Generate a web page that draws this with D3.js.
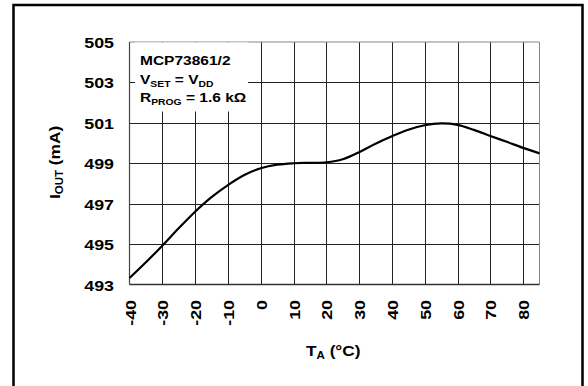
<!DOCTYPE html>
<html>
<head>
<meta charset="utf-8">
<script src="https://cdn.jsdelivr.net/npm/d3@7"></script>
<style>
  html, body { margin: 0; padding: 0; background: #fff; }
  svg { display: block; }
  text { font-family: "Liberation Sans", Arial, sans-serif; font-weight: bold; fill: #000; }
</style>
</head>
<body>
<svg id="chart" width="588" height="386"></svg>
<script>
// ---- data ----
const temperatures = [-40,-35,-30,-25,-20,-15,-10,-5,0,5,10,15,20,25,30,35,40,45,50,55,60,65,70,75,80,85];
const currents = [493.32,494.1,494.92,495.78,496.6,497.32,497.92,498.42,498.75,498.93,499.0,499.02,499.05,499.2,499.55,499.97,500.34,500.66,500.88,500.97,500.9,500.65,500.35,500.06,499.76,499.49];
const xTicks = [-40,-30,-20,-10,0,10,20,30,40,50,60,70,80];
const yTicks = [493,495,497,499,501,503,505];
const xDomain = [-40, 85];
const yDomain = [493, 505];

const svg = d3.select("#chart");
const SX = 1.15; // horizontal text stretch to mimic source font width

// outer frame
svg.append("rect").attr("x", 13.5).attr("y", 5).attr("width", 569).attr("height", 390)
  .attr("fill", "none").attr("stroke", "#000").attr("stroke-width", 2.5);

const x = d3.scaleLinear().domain(xDomain).range([129.5, 539.5]);
const y = d3.scaleLinear().domain(yDomain).range([284.5, 42]);

// grid
const grid = svg.append("g");
grid.selectAll("line.v").data(xTicks.filter(d => d > xDomain[0])).join("line")
  .attr("x1", d => Math.round(x(d)) + 0.5).attr("x2", d => Math.round(x(d)) + 0.5)
  .attr("y1", y(yDomain[1])).attr("y2", y(yDomain[0]))
  .attr("stroke", "#222").attr("stroke-width", 1);
grid.selectAll("line.h").data(yTicks.filter(d => d > yDomain[0] && d < yDomain[1])).join("line")
  .attr("x1", x(xDomain[0])).attr("x2", x(xDomain[1]))
  .attr("y1", d => Math.round(y(d)) + 0.5).attr("y2", d => Math.round(y(d)) + 0.5)
  .attr("stroke", "#222").attr("stroke-width", 1);

// plot border
svg.append("line").attr("x1", x(xDomain[0])).attr("x2", x(xDomain[1])).attr("y1", y(505)).attr("y2", y(505)).attr("stroke", "#888");
svg.append("line").attr("x1", x(xDomain[1])).attr("x2", x(xDomain[1])).attr("y1", y(505)).attr("y2", y(493)).attr("stroke", "#888");
svg.append("line").attr("x1", x(xDomain[0])).attr("x2", x(xDomain[1])).attr("y1", y(493)).attr("y2", y(493)).attr("stroke", "#333").attr("stroke-width", 1.3);
svg.append("line").attr("x1", x(xDomain[0])).attr("x2", x(xDomain[0])).attr("y1", y(505)).attr("y2", y(493)).attr("stroke", "#444").attr("stroke-width", 1.2);

// annotation box (white, covers grid)
svg.append("rect").attr("x", 135).attr("y", y(505) + 0.5).attr("width", 113).attr("height", 69)
  .attr("fill", "#fff");

const ann = svg.append("g");
function annLine(yy, parts) {
  const t = ann.append("text").attr("transform", `translate(140,${yy}) scale(${SX},1)`)
    .style("font-size", "13.5px");
  parts.forEach(p => {
    const ts = t.append("tspan").text(p.t);
    if (p.sub) ts.style("font-size", "9px").attr("dy", 3);
    else if (p.back) ts.attr("dy", -3);
  });
}
annLine(65, [{t: "MCP73861/2"}]);
annLine(83.5, [{t: "V"}, {t: "SET", sub: true}, {t: " = V", back: true}, {t: "DD", sub: true}]);
annLine(101.5, [{t: "R"}, {t: "PROG", sub: true}, {t: " = 1.6 k\u03A9", back: true}]);

// curve
const line = d3.line().x((d, i) => x(temperatures[i])).y(d => y(d)).curve(d3.curveCatmullRom);
svg.append("path").datum(currents).attr("d", line)
  .attr("fill", "none").attr("stroke", "#000").attr("stroke-width", 2.2);

// y axis
const yAxis = svg.append("g").attr("transform", `translate(114,0)`)
  .call(d3.axisLeft(y).tickValues(yTicks).tickSize(0).tickPadding(0).tickFormat(d => String(d)));
yAxis.select(".domain").remove();
yAxis.selectAll("text").attr("x", null).attr("dy", "0.36em")
  .attr("transform", `scale(${SX},1)`)
  .style("font-size", "15.5px").style("font-family", "Liberation Sans, Arial, sans-serif").attr("fill", "#000");

// x axis
const xAxis = svg.append("g").attr("transform", `translate(0,300)`)
  .call(d3.axisBottom(x).tickValues(xTicks).tickSize(0).tickPadding(0).tickFormat(d => String(d)));
xAxis.select(".domain").remove();
xAxis.selectAll("text").attr("y", null).attr("dy", "0.36em")
  .attr("text-anchor", "end")
  .attr("transform", `rotate(-90) scale(${SX},1)`)
  .style("font-size", "15.5px").style("font-family", "Liberation Sans, Arial, sans-serif").attr("fill", "#000");

// x title
const xt = svg.append("text").attr("transform", `translate(306,356) scale(${SX},1)`).style("font-size", "15px");
xt.append("tspan").text("T");
xt.append("tspan").text("A").style("font-size", "10px").attr("dy", 3);
xt.append("tspan").text(" (\u00B0C)").attr("dy", -3);

// y title
const yt = svg.append("text").attr("transform", `translate(60,199) rotate(-90) scale(${SX},1)`).style("font-size", "15px");
yt.append("tspan").text("I");
yt.append("tspan").text("OUT").style("font-size", "10px").attr("dy", 3);
yt.append("tspan").text(" (mA)").attr("dy", -3);
</script>
</body>
</html>
